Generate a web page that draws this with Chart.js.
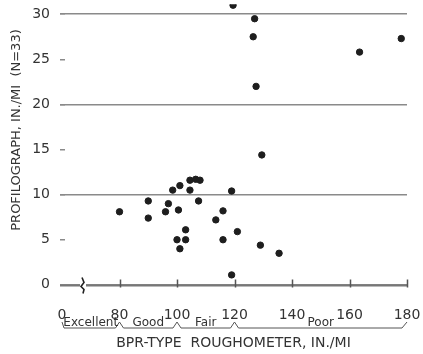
<!DOCTYPE html>
<html>
<head>
<meta charset="utf-8">
<script src="https://cdn.jsdelivr.net/npm/chart.js@4/dist/chart.umd.min.js"></script>
<style>
  html, body { margin: 0; padding: 0; background: #fff; }
</style>
</head>
<body>
<canvas id="stage" width="423" height="354"></canvas>
<script>
// BPR roughometer vs profilograph readings, in./mi (N=33)
let roughometer  = [80, 90, 90, 98.5, 101, 104.5, 106.5, 108, 104.5, 97, 96, 100.5, 107.5, 119, 116, 113.5, 103, 100, 103, 101, 116, 121, 129, 135.5, 119, 119.5, 127, 126.5, 127.5, 129.5, 163.5, 178];
let profilograph = [8.1, 9.3, 7.4, 10.5, 11.0, 11.6, 11.7, 11.6, 10.5, 9.0, 8.1, 8.3, 9.3, 10.4, 8.2, 7.2, 6.1, 5.0, 5.0, 4.0, 5.0, 5.9, 4.4, 3.5, 1.1, 31.0, 29.5, 27.5, 22.0, 14.4, 25.8, 27.3];

// x axis is broken: the "0" tick sits where 60 would be
let xTickValues = [60, 80, 100, 120, 140, 160, 180];
let xTickLabels = ['0', '80', '100', '120', '140', '160', '180'];
let yTickValues = [0, 5, 10, 15, 20, 25, 30];

// roughness ratings under the x axis
let ratingNames = ['Excellent', 'Good', 'Fair', 'Poor'];
let ratingEdges = [60, 80, 100, 120, 180];

let points = roughometer.map((x, i) => ({ x: x, y: profilograph[i] }));

let fontFam = '"DejaVu Sans", sans-serif';
let ink = '#333';
let lineGray = '#8a8a8a';

// zero line, y title, ratings brackets + axis break
let extras = {
  id: 'extras',
  afterDraw(chart) {
    let ctx = chart.ctx;
    let xs = chart.scales.x;
    let area = chart.chartArea;
    let y0 = Math.round(chart.scales.y.getPixelForValue(0)) + 0.5;

    ctx.save();
    // zero line with x tick marks
    ctx.strokeStyle = '#777';
    ctx.lineWidth = 2;
    ctx.beginPath();
    ctx.moveTo(area.left, y0);
    ctx.lineTo(area.right, y0);
    ctx.stroke();
    ctx.lineWidth = 1.5;
    ctx.strokeStyle = '#555';
    ctx.beginPath();
    xTickValues.slice(1).forEach(v => {
      let tx = Math.round(xs.getPixelForValue(v)) + 0.5;
      ctx.moveTo(tx, y0 - 6);
      ctx.lineTo(tx, y0 + 2);
    });
    ctx.stroke();
    ctx.restore();

    ctx.save();
    // y axis title (sits a bit above the middle in the original)
    ctx.translate(17, 130);
    ctx.rotate(-Math.PI / 2);
    ctx.fillStyle = ink;
    ctx.font = '13px ' + fontFam;
    ctx.textAlign = 'center';
    ctx.textBaseline = 'middle';
    ctx.fillText('PROFILOGRAPH, IN./MI  (N=33)', 0, 0);
    ctx.restore();

    ctx.save();
    // break mark on the zero line
    let bx = xs.getPixelForValue(67.3);
    ctx.fillStyle = '#fff';
    ctx.fillRect(bx - 3, y0 - 2, 6, 4);
    ctx.strokeStyle = '#222';
    ctx.lineWidth = 1.6;
    ctx.beginPath();
    ctx.moveTo(bx - 1, y0 - 8);
    ctx.lineTo(bx + 1, y0 - 3);
    ctx.lineTo(bx - 2, y0 + 1);
    ctx.lineTo(bx + 1, y0 + 4);
    ctx.lineTo(bx, y0 + 8);
    ctx.stroke();

    // brackets
    let by = 328, peak = 6;
    let px = ratingEdges.map(v => xs.getPixelForValue(v));
    ctx.strokeStyle = '#555';
    ctx.lineWidth = 1;
    ctx.beginPath();
    ctx.moveTo(px[0], by - peak);
    ctx.lineTo(px[0] + 2, by);
    for (let i = 1; i < px.length - 1; i++) {
      ctx.lineTo(px[i] - 4, by);
      ctx.lineTo(px[i], by - peak);
      ctx.lineTo(px[i] + 4, by);
    }
    ctx.lineTo(px[px.length - 1] - 5, by);
    ctx.lineTo(px[px.length - 1], by - peak);
    ctx.stroke();

    ctx.fillStyle = ink;
    ctx.font = '12px ' + fontFam;
    ctx.textAlign = 'center';
    ctx.textBaseline = 'alphabetic';
    ratingNames.forEach((name, i) => {
      ctx.fillText(name, (px[i] + px[i + 1]) / 2, by - 2);
    });
    ctx.restore();
  }
};

let canvas = document.getElementById('stage');
let chart = new Chart(canvas, {
  type: 'scatter',
  data: {
    datasets: [{
      label: 'Profilograph',
      data: points,
      backgroundColor: '#1e1e1e',
      borderColor: '#1e1e1e',
      pointRadius: 3.2,
      pointHoverRadius: 3.2
    }]
  },
  options: {
    responsive: false,
    animation: false,
    layout: { padding: { top: 0, right: 16, bottom: 0, left: 0 } },
    plugins: { legend: { display: false }, tooltip: { enabled: false } },
    scales: {
      x: {
        type: 'linear',
        min: 59.3,
        max: 180,
        afterBuildTicks: s => { s.ticks = xTickValues.map(v => ({ value: v })); },
        afterFit: s => { s.height = 66; s.paddingLeft = 0; s.paddingRight = 0; },
        border: { display: false },
        grid: { display: false },
        ticks: {
          autoSkip: false,
          maxRotation: 0,
          padding: 11,
          color: ink,
          font: { family: fontFam, size: 14 },
          callback: (v, i) => xTickLabels[i]
        },
        title: {
          display: true,
          text: 'BPR-TYPE  ROUGHOMETER, IN./MI',
          color: ink,
          font: { family: fontFam, size: 14 },
          padding: { top: 0, bottom: 2 }
        }
      },
      y: {
        min: -0.35,
        max: 31.11,
        afterBuildTicks: s => { s.ticks = yTickValues.map(v => ({ value: v })); },
        afterFit: s => { s.width = 60; s.paddingTop = 0; s.paddingBottom = 0; },
        border: { display: false },
        grid: {
          color: c => (c.tick && c.tick.value % 10 === 0) ? lineGray : 'transparent',
          lineWidth: 1.5,
          tickLength: -5,
          tickColor: lineGray
        },
        ticks: {
          padding: 15,
          color: ink,
          font: { family: fontFam, size: 14 }
        }
      }
    }
  },
  plugins: [extras]
});
</script>
</body>
</html>
